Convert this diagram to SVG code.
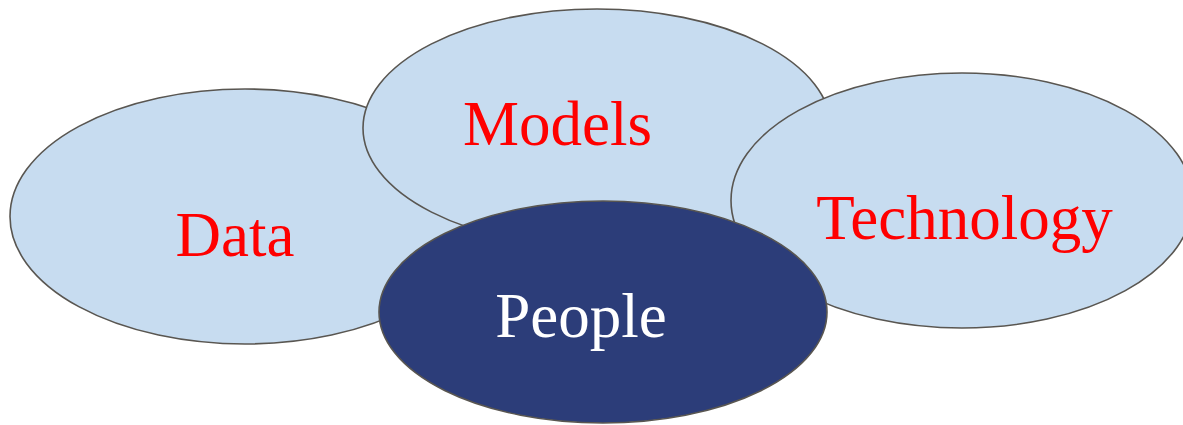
<svg xmlns="http://www.w3.org/2000/svg" width="1183" height="425" viewBox="0 0 1183 425">
  <style>
    .light { fill: #C7DCF0; stroke: #595651; stroke-width: 1.6; }
    .dark { fill: #2C3D79; stroke: #595651; stroke-width: 1.6; }
    .lbl { font-family: "Liberation Serif", "Times New Roman", serif; font-size: 63px; text-anchor: middle; }
    .red { fill: #FF0000; }
    .white { fill: #FFFFFF; }
  </style>
  <rect width="1183" height="425" fill="#FFFFFF"/>
  <g id="data">
    <ellipse class="light" cx="245" cy="216.5" rx="235" ry="127.5"/>
    <text class="lbl red" x="235" y="256">Data</text>
  </g>
  <g id="models">
    <ellipse class="light" cx="597" cy="128" rx="234" ry="119"/>
    <text class="lbl red" x="557.5" y="145">Models</text>
  </g>
  <g id="technology">
    <ellipse class="light" cx="962" cy="200.5" rx="231" ry="127.5"/>
    <text class="lbl red" x="964.5" y="239">Technology</text>
  </g>
  <g id="people">
    <ellipse class="dark" cx="603" cy="312" rx="224" ry="111"/>
    <text class="lbl white" x="581" y="337">People</text>
  </g>
  <g id="connectors"/>
</svg>
